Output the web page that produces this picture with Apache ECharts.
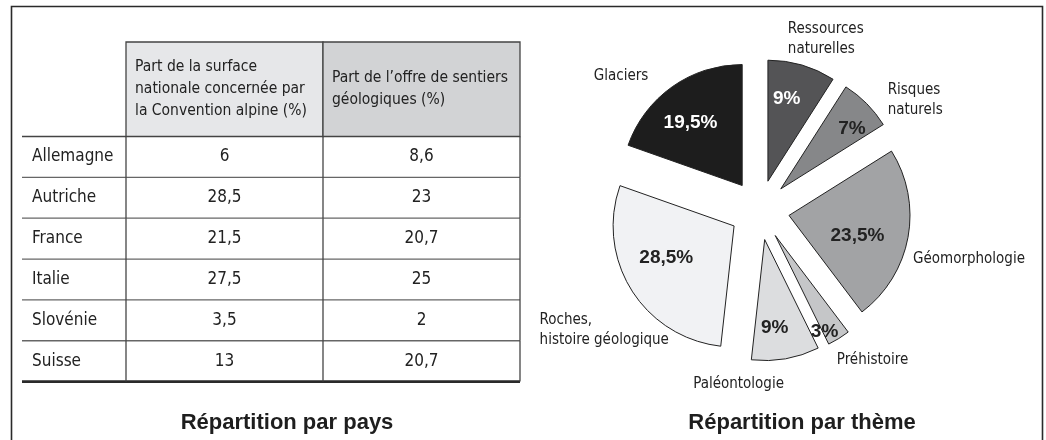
<!DOCTYPE html>
<html lang="fr">
<head>
    <meta charset="utf-8">
    <title>Sentiers géologiques - Convention alpine</title>
    <script src="https://cdn.jsdelivr.net/npm/echarts@6/dist/echarts.min.js"></script>
    <style>
        html, body {
            margin: 0;
            padding: 0;
            background: #fff;
        }
        #chart {
            width: 1046px;
            height: 440px;
        }
    </style>
</head>
<body>
<div id="chart"></div>

<script>
    // données du tableau
    var countries = ['Allemagne', 'Autriche', 'France', 'Italie', 'Slovénie', 'Suisse'];
    var surfaceShare = [6, 28.5, 21.5, 27.5, 3.5, 13];
    var trailShare = [8.6, 23, 20.7, 25, 2, 20.7];
    var columnHeaders = [
        'Part de la surface\nnationale concernée par\nla Convention alpine (%)',
        'Part de l\u2019offre de sentiers\ngéologiques (%)'
    ];

    // données du camembert
    var themes = ['Ressources\nnaturelles', 'Risques\nnaturels', 'Géomorphologie', 'Préhistoire',
        'Paléontologie', 'Roches,\nhistoire géologique', 'Glaciers'];
    var themeShare = [9, 7, 23.5, 3, 9, 28.5, 19.5];

    var themeColors = ['#545456', '#868789', '#a2a3a5', '#c5c6c8', '#dcdddf', '#f1f2f4', '#1d1d1d'];
    var pctColors = ['#fff', '#222', '#222', '#222', '#222', '#222', '#fff'];

    // mise en page du tableau (px)
    var colEdges = [0, 104, 301, 498];
    var headerH = 94.5, rowH = 40.85;
    var rowEdges = [0];
    for (var k = 0; k <= countries.length; k++) {
        rowEdges.push(headerH + k * rowH);
    }
    var headerFills = ['#e6e7e9', '#d2d3d5'];

    // petits décalages des étiquettes du camembert
    var pctShift = [[1, -21], [26, -15], [6, 9], [16, 42], [-1, 26], [-14, -2], [-15, -11]];
    var nameShift = [
        {dx: -27, dy: -26},
        {dx: 8, dy: -4},
        {dx: -8, dy: 22},
        {dx: -15, dy: 22},
        {dx: -60, dy: 25, align: 'center'},
        {dx: -79, dy: 40, align: 'left'},
        {dx: -11, dy: -11}
    ];

    var narrow = '"Liberation Sans Narrow", "Arial Narrow", "DejaVu Sans Condensed", sans-serif';
    var bold = '"Liberation Sans", Arial, sans-serif';

    function fmt(v) {
        return String(v).replace('.', ',');
    }

    function cellText(c, r) {
        if (r === 0) return c === 0 ? '' : columnHeaders[c - 1];
        if (c === 0) return countries[r - 1];
        return fmt(c === 1 ? surfaceShare[r - 1] : trailShare[r - 1]);
    }

    var cells = [];
    for (var r = 0; r <= countries.length; r++) {
        for (var c = 0; c < 3; c++) {
            cells.push([c, r]);
        }
    }

    function renderCell(params, api) {
        var c = api.value(0), r = api.value(1);
        var p0 = api.coord([colEdges[c], rowEdges[r]]);
        var p1 = api.coord([colEdges[c + 1], rowEdges[r + 1]]);
        var x0 = p0[0], y0 = p0[1], x1 = p1[0], y1 = p1[1];
        var children = [];
        var line = function (ax, ay, bx, by, w, col) {
            children.push({
                type: 'line',
                shape: {x1: ax, y1: ay, x2: bx, y2: by},
                style: {stroke: col, lineWidth: w}
            });
        };

        if (r === 0) {
            if (c > 0) {
                children.push({
                    type: 'rect',
                    shape: {x: x0, y: y0, width: x1 - x0, height: y1 - y0},
                    style: {fill: headerFills[c - 1], stroke: '#444', lineWidth: 1.3}
                });
            } else {
                line(x0, y1, x1, y1, 1.3, '#444');
            }
        } else {
            var last = r === countries.length;
            line(x0, y1, x1, y1, last ? 2.6 : 1.3, last ? '#2a2a2a' : '#666');
            if (c > 0) line(x0, y0, x0, y1, 1.3, '#444');
            if (c === 2) line(x1, y0, x1, y1, 1.3, '#444');
        }

        var txt = cellText(c, r);
        if (txt) {
            var isHeader = r === 0;
            var leftAligned = isHeader || c === 0;
            children.push({
                type: 'text',
                style: {
                    text: txt,
                    x: leftAligned ? x0 + (isHeader ? 9 : 10) : (x0 + x1) / 2,
                    y: (y0 + y1) / 2,
                    align: leftAligned ? 'left' : 'center',
                    verticalAlign: 'middle',
                    font: (isHeader ? '15.5px ' : '17px ') + narrow,
                    lineHeight: 22,
                    fill: '#222'
                }
            });
        }
        return {type: 'group', children: children};
    }

    var myChart = echarts.init(document.getElementById('chart'));

    var option = {
        animation: false,
        backgroundColor: '#fff',
        graphic: [{
            type: 'rect',
            silent: true,
            shape: {x: 11.5, y: 6.5, width: 1031, height: 470},
            style: {fill: 'none', stroke: '#2a2a2a', lineWidth: 1.6}
        }],
        title: [
            {
                text: 'Répartition par pays',
                left: 282,
                top: 407,
                textAlign: 'center',
                textStyle: {fontFamily: bold, fontWeight: 'bold', fontSize: 22, color: '#1e1e1e'}
            },
            {
                text: 'Répartition par thème',
                left: 797,
                top: 407,
                textAlign: 'center',
                textStyle: {fontFamily: bold, fontWeight: 'bold', fontSize: 22, color: '#1e1e1e'}
            }
        ],
        grid: {left: 22, top: 42, width: 498, height: rowEdges[rowEdges.length - 1]},
        xAxis: {type: 'value', min: 0, max: colEdges[3], show: false},
        yAxis: {type: 'value', min: 0, max: rowEdges[rowEdges.length - 1], inverse: true, show: false},
        series: [
            {
                type: 'custom',
                silent: true,
                renderItem: renderCell,
                data: cells
            },
            {
                type: 'pie',
                center: [759.5, 210],
                radius: 121,
                startAngle: 90,
                selectedMode: 'multiple',
                selectedOffset: 30,
                avoidLabelOverlap: false,
                silent: true,
                emphasis: {disabled: true},
                itemStyle: {borderColor: '#222', borderWidth: 1},
                label: {
                    position: 'inside',
                    fontFamily: bold,
                    fontWeight: 'bold',
                    fontSize: 19,
                    formatter: function (p) {
                        return fmt(p.value) + '%';
                    }
                },
                labelLine: {show: false},
                labelLayout: function (p) {
                    var s = pctShift[p.dataIndex];
                    return {dx: s[0], dy: s[1]};
                },
                data: themes.map(function (n, i) {
                    return {
                        name: n,
                        value: themeShare[i],
                        selected: true,
                        itemStyle: {color: themeColors[i]},
                        label: {color: pctColors[i]}
                    };
                })
            },
            {
                type: 'pie',
                center: [759.5, 210],
                radius: 121,
                startAngle: 90,
                selectedMode: 'multiple',
                selectedOffset: 30,
                avoidLabelOverlap: false,
                silent: true,
                emphasis: {disabled: true},
                itemStyle: {color: 'rgba(0,0,0,0)', borderWidth: 0},
                label: {
                    position: 'outside',
                    fontFamily: narrow,
                    fontSize: 15,
                    lineHeight: 20,
                    color: '#222',
                    formatter: '{b}'
                },
                labelLine: {show: false, length: 0, length2: 8},
                labelLayout: function (p) {
                    return nameShift[p.dataIndex];
                },
                data: themes.map(function (n, i) {
                    return {name: n, value: themeShare[i], selected: true};
                })
            }
        ]
    };

    myChart.setOption(option);
</script>
</body>
</html>
